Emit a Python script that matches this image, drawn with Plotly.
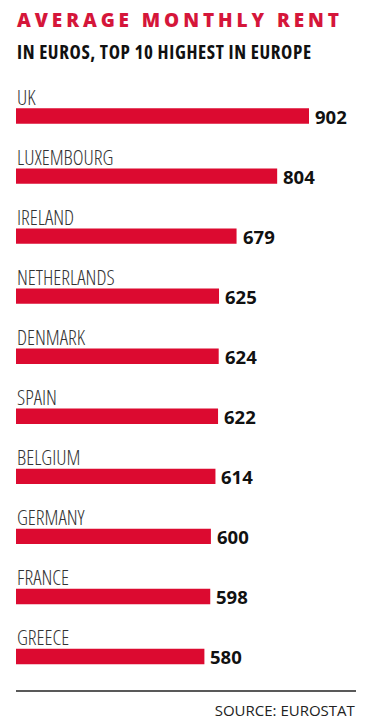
import plotly.graph_objects as go

countries = ["UK", "LUXEMBOURG", "IRELAND", "NETHERLANDS", "DENMARK",
             "SPAIN", "BELGIUM", "GERMANY", "FRANCE", "GREECE"]
rent = [902, 804, 679, 625, 624, 622, 614, 600, 598, 580]

title = "AVERAGE MONTHLY RENT"
subtitle = "IN EUROS, TOP 10 HIGHEST IN EUROPE"
source = "SOURCE: EUROSTAT"

RED = "#DC0A30"
TITLE_RED = "#D5163A"
FONT = "Open Sans"

W, H = 368, 726
ML, MR, MT, MB = 16, 12, 86, 34
plot_h = H - MT - MB
plot_bottom = H - MB


def py(y_px):
    return (plot_bottom - y_px) / plot_h


fig = go.Figure()
fig.add_trace(go.Bar(
    x=rent, y=countries, orientation="h",
    marker=dict(color=RED, line=dict(width=0)),
    width=0.256, hoverinfo="skip",
))

annotations = []
for c, v in zip(countries, rent):
    annotations.append(dict(
        x=0, y=c, xref="x", yref="y", text=c, showarrow=False,
        xanchor="left", yanchor="middle", yshift=19.5, xshift=-1,
        font=dict(family=FONT, size=20.5, color="#333333", weight=300),
    ))
    annotations.append(dict(
        x=v, y=c, xref="x", yref="y", text=str(v), showarrow=False,
        xanchor="left", yanchor="middle", xshift=4, yshift=0,
        font=dict(family=FONT, size=18.5, color="#111111", weight=700),
    ))

annotations.append(dict(
    x=0, y=py(20), xref="paper", yref="paper", text=title, showarrow=False,
    xanchor="left", yanchor="middle", xshift=-1,
    font=dict(family=FONT, size=19, color=TITLE_RED, weight=800),
))
annotations.append(dict(
    x=0, y=py(52), xref="paper", yref="paper", text=subtitle, showarrow=False,
    xanchor="left", yanchor="middle", xshift=-1,
    font=dict(family=FONT, size=19, color="#111111", weight=700),
))
annotations.append(dict(
    x=1, y=py(710), xref="paper", yref="paper", text=source, showarrow=False,
    xanchor="right", yanchor="middle", xshift=1,
    font=dict(family=FONT, size=15, color="#222222", weight=400),
))

fig.update_layout(
    width=W, height=H,
    margin=dict(l=ML, r=MR, t=MT, b=MB),
    paper_bgcolor="white", plot_bgcolor="white",
    showlegend=False,
    xaxis=dict(range=[0, 340 * 902 / 293], visible=False, fixedrange=True),
    yaxis=dict(autorange="reversed", visible=False, fixedrange=True),
    annotations=annotations,
    shapes=[dict(type="line", xref="paper", yref="paper", x0=0, x1=1, y0=py(691), y1=py(691),
                 line=dict(color="#222222", width=1.3))],
)

post_script = """
document.body.style.margin = '0';
var gd = document.getElementById('{plot_id}');
function fitWidth(t, w){
  t.setAttribute('letter-spacing', '0px');
  var L = t.getComputedTextLength();
  var s = t.textContent;
  t.setAttribute('letter-spacing', ((w - L) / (s.length - 1)) + 'px');
}
function fixText(){
  gd.querySelectorAll('.annotation-text').forEach(function(t){
    var s = t.textContent;
    var bb0 = t.getBBox();
    var isRight = (s === 'SOURCE: EUROSTAT');
    if (s === 'AVERAGE MONTHLY RENT') {
      t.style.fontStretch = '100%';
    } else if (/^[0-9]+$/.test(s)) {
      t.style.fontStretch = '90%';
    } else if (s === 'IN EUROS, TOP 10 HIGHEST IN EUROPE') {
      t.style.fontStretch = '75%';
    } else if (isRight) {
      t.style.fontStretch = '100%';
    } else {
      t.style.fontStretch = '75%';
    }
    if (isRight) {
      t.setAttribute('text-anchor', 'end');
      t.setAttribute('x', bb0.x + bb0.width);
    } else {
      t.setAttribute('text-anchor', 'start');
      t.setAttribute('x', bb0.x);
    }
    if (s === 'AVERAGE MONTHLY RENT') { fitWidth(t, 322); }
    if (s === 'IN EUROS, TOP 10 HIGHEST IN EUROPE') { fitWidth(t, 294); }
  });
}
fixText();
"""

fig.write_html("out.html", post_script=post_script, config={"displayModeBar": False})
